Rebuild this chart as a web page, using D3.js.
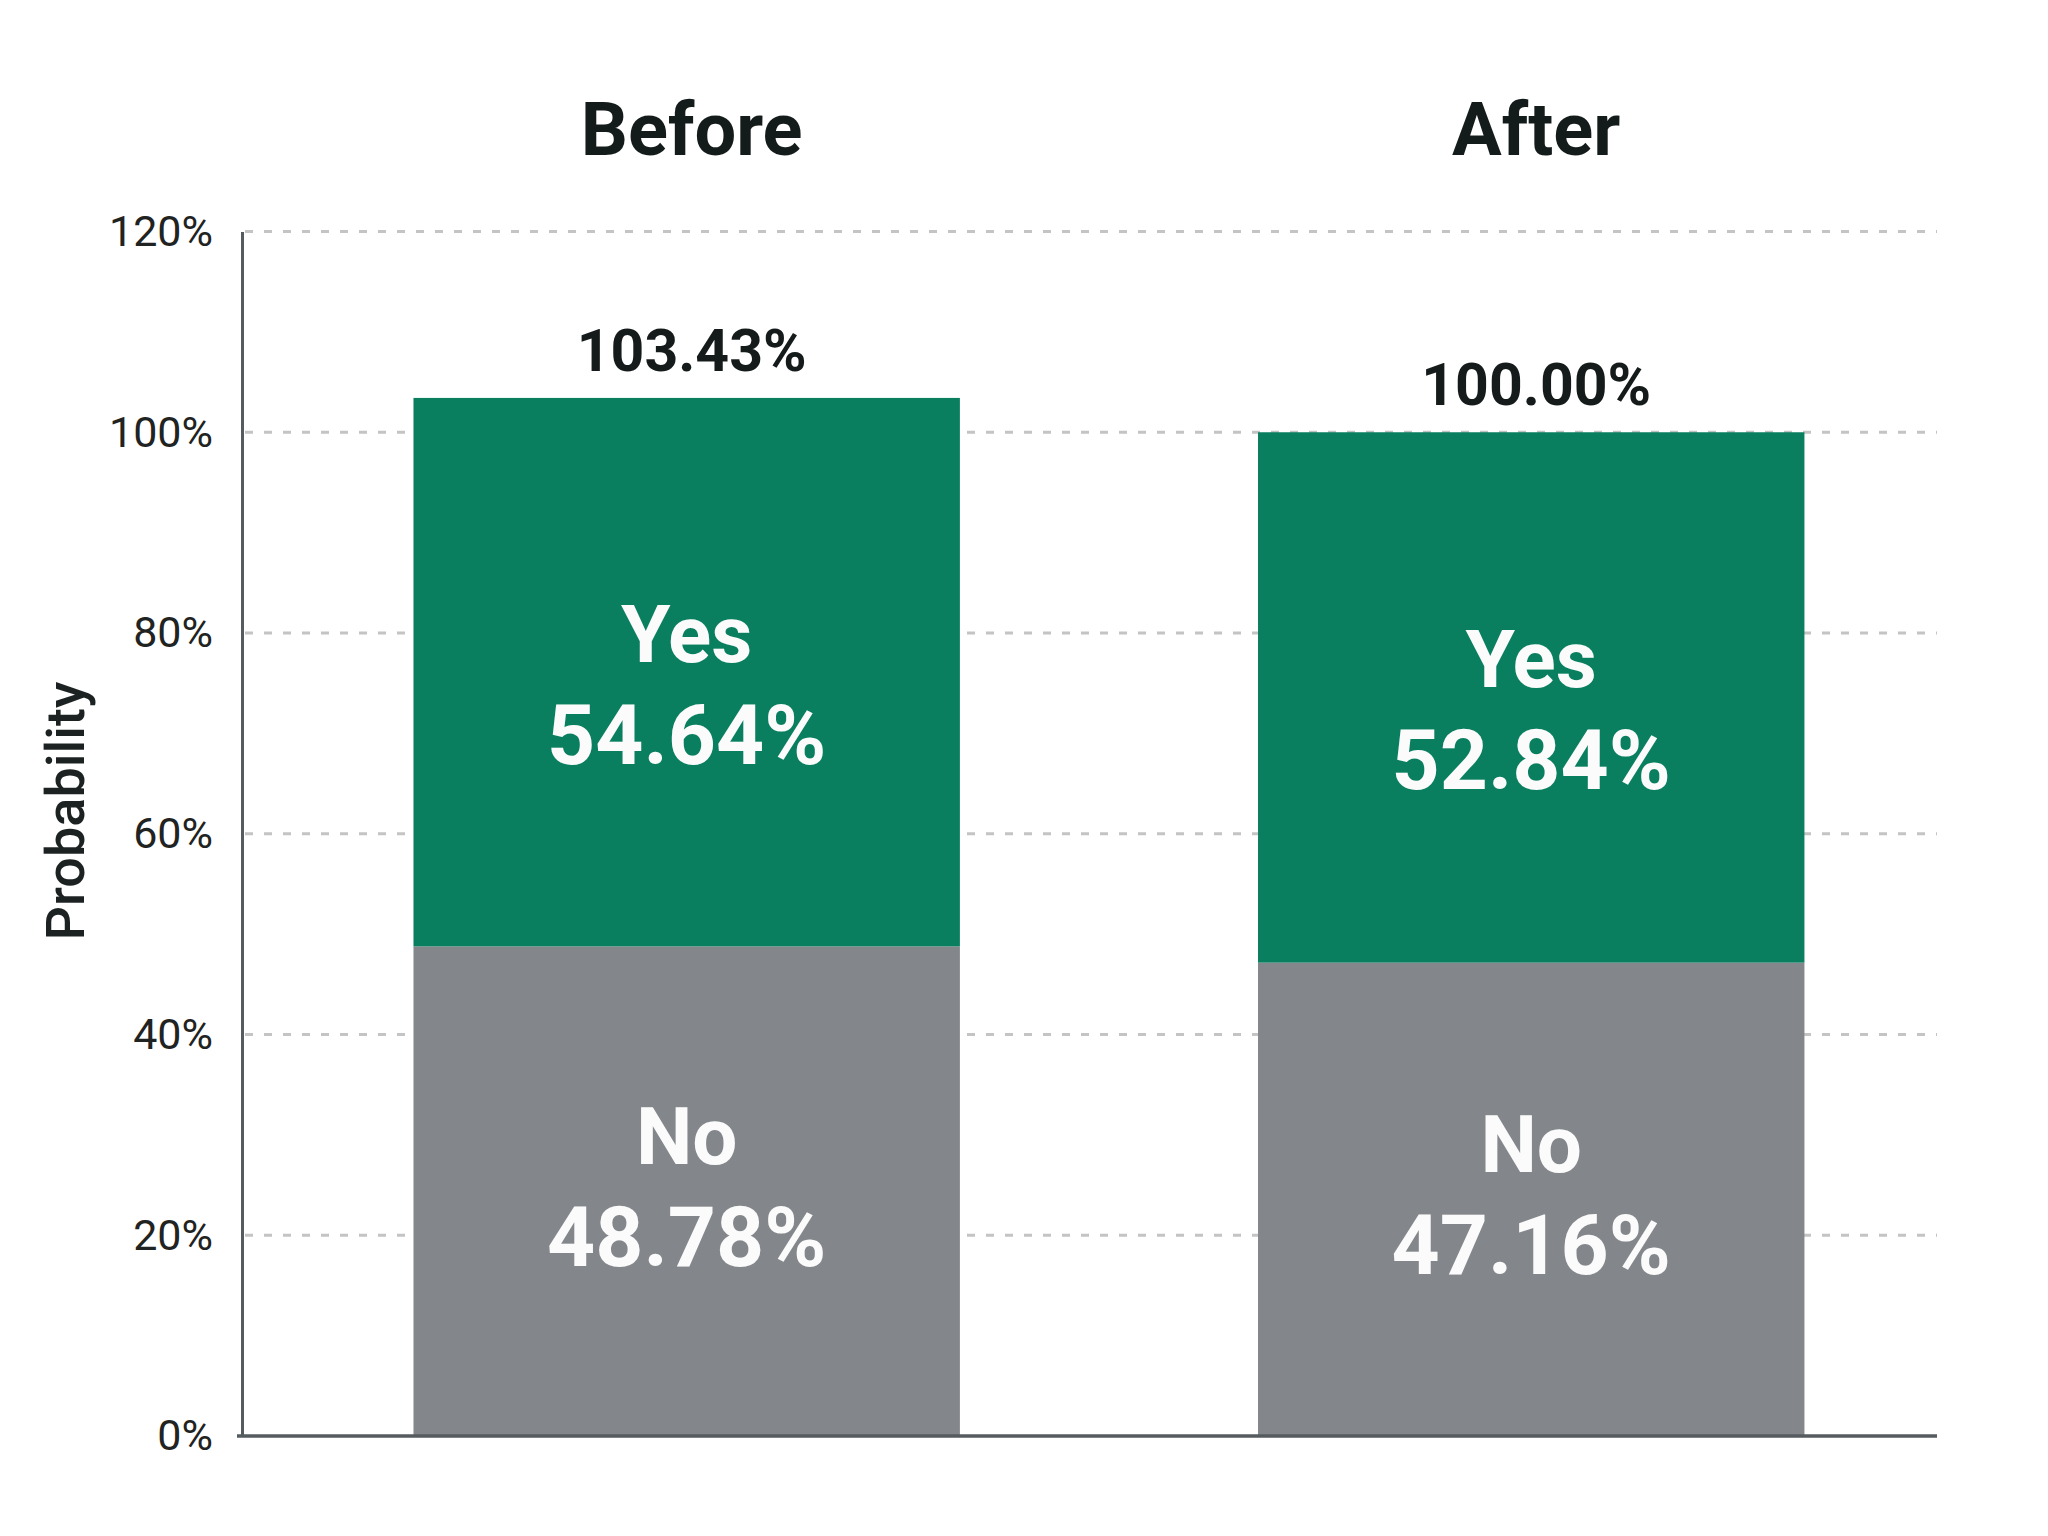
<!DOCTYPE html>
<html>
<head>
<meta charset="utf-8">
<script src="https://cdn.jsdelivr.net/npm/d3@7"></script>
<style>
  html, body { margin: 0; padding: 0; background: #ffffff; }
  svg { display: block; font-family: Roboto, "Noto Sans", sans-serif; }
</style>
</head>
<body>
<svg id="chart" width="2048" height="1536"></svg>
<script>
// ---- data ----
const categories = ["Before", "After"];
const seriesNames = ["No", "Yes"];
const noValues = [48.78, 47.16];
const yesValues = [54.64, 52.84];
const totalLabels = ["103.43%", "100.00%"];
const yTicks = [0, 20, 40, 60, 80, 100, 120];

// ---- layout ----
const plotLeft = 242, plotRight = 1937, plotTop = 231.5, plotBottom = 1436;
const colors = { No: "#83878b", Yes: "#0a7f5f" };
const labelShift = { No: -11, Yes: 6 };

const svg = d3.select("#chart");

const x = d3.scaleBand().domain(categories).range([plotLeft, plotRight])
  .paddingInner(0.353).paddingOuter(0.18).align(0.564);
const y = d3.scaleLinear().domain([0, 120]).range([plotBottom, plotTop]);

const rows = categories.map((c, i) => ({ cat: c, No: noValues[i], Yes: yesValues[i], total: totalLabels[i] }));
const stack = d3.stack().keys(seriesNames)(rows);

// grid lines
svg.append("g").selectAll("line")
  .data(yTicks.filter(t => t > 0))
  .join("line")
  .attr("x1", plotLeft + 3).attr("x2", plotRight)
  .attr("y1", d => y(d)).attr("y2", d => y(d))
  .attr("stroke", "#c4c4c4").attr("stroke-width", 3)
  .attr("stroke-dasharray", "8,11");

// bars
const layers = svg.append("g").selectAll("g")
  .data(stack).join("g")
  .attr("fill", d => colors[d.key]);
layers.selectAll("rect")
  .data(d => d)
  .join("rect")
  .attr("x", d => x(d.data.cat))
  .attr("width", x.bandwidth())
  .attr("y", d => y(d[1]))
  .attr("height", d => y(d[0]) - y(d[1]));

// segment labels
const segLabels = svg.append("g").attr("fill", "#fbfbfb")
  .attr("font-weight", 700).attr("text-anchor", "middle");
stack.forEach(layer => {
  layer.forEach(v => {
    const cx = x(v.data.cat) + x.bandwidth() / 2;
    const mid = (y(v[0]) + y(v[1])) / 2 + labelShift[layer.key];
    segLabels.append("text")
      .attr("x", cx).attr("y", mid - 16)
      .attr("font-size", 80)
      .text(layer.key);
    segLabels.append("text")
      .attr("x", cx).attr("y", mid + 86)
      .attr("font-size", 84)
      .text(v.data[layer.key].toFixed(2) + "%");
  });
});

// total labels
svg.append("g").selectAll("text")
  .data(stack[stack.length - 1])
  .join("text")
  .attr("x", d => x(d.data.cat) + x.bandwidth() / 2 + 5)
  .attr("y", d => y(d[1]) - 27)
  .attr("text-anchor", "middle")
  .attr("font-size", 59).attr("font-weight", 700)
  .attr("fill", "#151b1a")
  .text(d => d.data.total);

// category titles
svg.append("g").selectAll("text")
  .data(categories)
  .join("text")
  .attr("x", d => x(d) + x.bandwidth() / 2 + 5)
  .attr("y", 155)
  .attr("text-anchor", "middle")
  .attr("font-size", 74).attr("font-weight", 700)
  .attr("fill", "#141c1b")
  .text(d => d);

// y axis
const yAxis = svg.append("g")
  .attr("transform", `translate(${plotLeft},0)`)
  .call(d3.axisLeft(y).tickValues(yTicks).tickFormat(d => d + "%").tickSize(0).tickPadding(29));
yAxis.select(".domain").attr("stroke", "#555b5e").attr("stroke-width", 3);
yAxis.selectAll("text")
  .attr("font-size", 43).attr("fill", "#1f2322")
  .attr("font-family", "Roboto, sans-serif").attr("font-weight", 400);

// baseline
svg.append("line")
  .attr("x1", plotLeft - 5).attr("x2", plotRight)
  .attr("y1", y(0)).attr("y2", y(0))
  .attr("stroke", "#555b5e").attr("stroke-width", 3.5);

// y label
svg.append("text")
  .attr("transform", `translate(84, 811) rotate(-90)`)
  .attr("text-anchor", "middle")
  .attr("font-size", 54).attr("font-weight", 500)
  .attr("fill", "#1c2221")
  .text("Probability");
</script>
</body>
</html>
